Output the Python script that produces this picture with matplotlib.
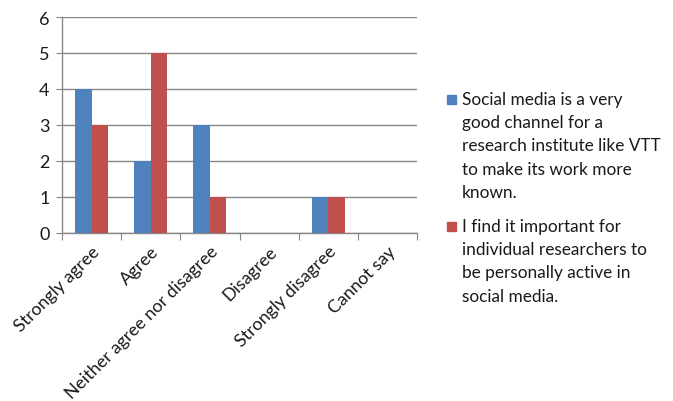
import matplotlib
matplotlib.use("Agg")
import matplotlib.pyplot as plt
import numpy as np

categories = ["Strongly agree", "Agree", "Neither agree nor disagree",
              "Disagree", "Strongly disagree", "Cannot say"]
channel_values = [4, 2, 3, 0, 1, 0]
personal_values = [3, 5, 1, 0, 1, 0]
series_labels = [
    ["Social media is a very", "good channel for a",
     "research institute like VTT", "to make its work more", "known."],
    ["I find it important for", "individual researchers to",
     "be personally active in", "social media."],
]
yticks = [0, 1, 2, 3, 4, 5, 6]

blue = "#4F81BD"
red = "#C0504D"
grid_col = "#868686"

plt.rcParams["font.family"] = ["Lato", "DejaVu Sans"]

W, H = 673, 402
fig = plt.figure(figsize=(W / 100, H / 100), dpi=100)
ax = fig.add_axes([62 / W, 1 - 234 / H, (417 - 62) / W, (234 - 18) / H])

x = np.arange(len(categories))
bw = 0.28
ax.bar(x - bw / 2, channel_values, bw, color=blue, zorder=3)
ax.bar(x + bw / 2, personal_values, bw, color=red, zorder=3)

ax.set_xlim(-0.5, len(categories) - 0.5)
ax.set_ylim(0, 6)
ax.set_yticks(yticks)
ax.set_yticklabels([str(v) for v in yticks], fontsize=13, color="#1a1a1a")
ax.yaxis.grid(True, color=grid_col, linewidth=1.0, zorder=0)
ax.set_axisbelow(True)

for side in ["top", "right"]:
    ax.spines[side].set_visible(False)
for side in ["left", "bottom"]:
    ax.spines[side].set_color(grid_col)
    ax.spines[side].set_linewidth(1.0)

ax.tick_params(axis="y", length=4, color=grid_col, pad=5)
# category boundaries carry the x tick marks
ax.set_xticks(np.arange(len(categories) + 1) - 0.5)
ax.set_xticklabels([])
ax.tick_params(axis="x", length=5, color=grid_col)
ax.set_xticks(x, minor=True)
ax.set_xticklabels(categories, minor=True, rotation=45, ha="right",
                   rotation_mode="anchor", fontsize=12.8, color="#1a1a1a")
ax.tick_params(axis="x", which="minor", length=0, pad=7)

# legend drawn at the right of the plot
line_h = 23.2
starts = [100, 227]
for col, lines, y0 in zip([blue, red], series_labels, starts):
    fig.patches.append(plt.Rectangle((447 / W, 1 - (y0 + 5) / H), 9 / W, 9 / H,
                                     transform=fig.transFigure, color=col))
    for i, ln in enumerate(lines):
        fig.text(462 / W, 1 - (y0 + i * line_h) / H, ln, fontsize=12.4,
                 va="center", ha="left", color="#1a1a1a")

fig.savefig("out.png", dpi=100)
